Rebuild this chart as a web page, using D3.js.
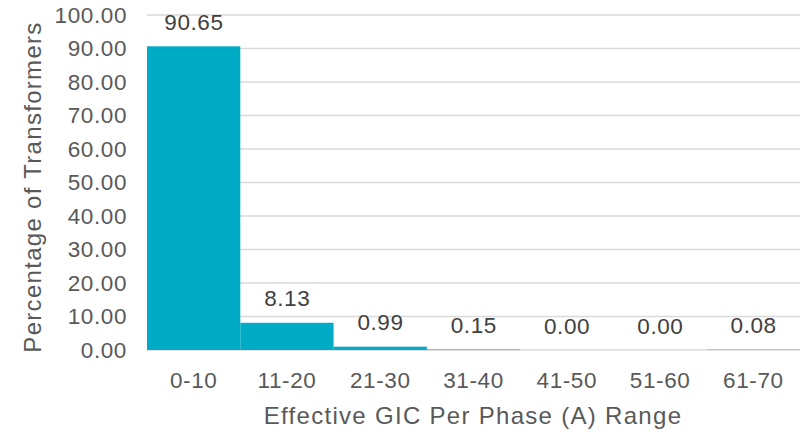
<!DOCTYPE html>
<html><head><meta charset="utf-8">
<script src="https://cdn.jsdelivr.net/npm/d3@7"></script>
<style>body{margin:0;background:#fff}svg{display:block}</style>
</head><body>
<svg id="c" width="804" height="431"></svg>
<script>
const categories = ["0-10","11-20","21-30","31-40","41-50","51-60","61-70"];
const values = [90.65, 8.13, 0.99, 0.15, 0.00, 0.00, 0.08];
const yTicks = [0,10,20,30,40,50,60,70,80,90,100];
const yTitle = "Percentage of Transformers";
const xTitle = "Effective GIC Per Phase (A) Range";

const svg = d3.select("#c");
const m = {left:147, right:800, top:15, bottom:350};
const x = d3.scaleBand().domain(categories).range([m.left, m.right]).padding(0);
const y = d3.scaleLinear().domain([0,100]).range([m.bottom, m.top]);
const font = "'Liberation Sans', Arial, sans-serif";
const fs = 22.5, ls = 0.6, tfs = 24, tls = 1.3;

svg.append("g").selectAll("line").data(yTicks).join("line")
  .attr("x1", m.left).attr("x2", m.right)
  .attr("y1", d=>y(d)).attr("y2", d=>y(d))
  .attr("stroke", "#d9d9d9").attr("stroke-width", 1.3);

svg.append("g").selectAll("rect").data(values).join("rect")
  .attr("x", (d,i)=>x(categories[i]))
  .attr("width", x.bandwidth())
  .attr("y", d=>y(d))
  .attr("height", d=>y(0)-y(d))
  .attr("fill", "#00abc6");

svg.append("g").selectAll("text").data(values).join("text")
  .attr("x", (d,i)=>x(categories[i]) + x.bandwidth()/2 + ls/2)
  .attr("y", d=>y(d) - 16.5)
  .attr("text-anchor","middle")
  .attr("font-family", font).attr("font-size", fs).attr("letter-spacing", ls).attr("fill", "#404040")
  .text(d=>d.toFixed(2));

const yAxis = d3.axisLeft(y).tickValues(yTicks).tickFormat(d=>d.toFixed(2)).tickSize(0).tickPadding(20);
const gy = svg.append("g").attr("transform", `translate(${m.left},0)`).call(yAxis);
gy.select(".domain").remove();
gy.selectAll("text").attr("font-family", font).attr("font-size", fs).attr("letter-spacing", ls).attr("fill", "#595959");

const xAxis = d3.axisBottom(x).tickSize(0).tickPadding(22);
const gx = svg.append("g").attr("transform", `translate(0,${m.bottom})`).call(xAxis);
gx.select(".domain").remove();
gx.selectAll("text").attr("font-family", font).attr("font-size", fs).attr("letter-spacing", ls).attr("fill", "#595959");

svg.append("text")
  .attr("transform", `translate(41,${187}) rotate(-90)`)
  .attr("text-anchor","middle")
  .attr("font-family", font).attr("font-size", tfs).attr("letter-spacing", tls).attr("fill", "#595959")
  .text(yTitle);

svg.append("text")
  .attr("x", 473).attr("y", 424)
  .attr("text-anchor","middle")
  .attr("font-family", font).attr("font-size", tfs).attr("letter-spacing", tls).attr("fill", "#595959")
  .text(xTitle);
</script>
</body></html>
